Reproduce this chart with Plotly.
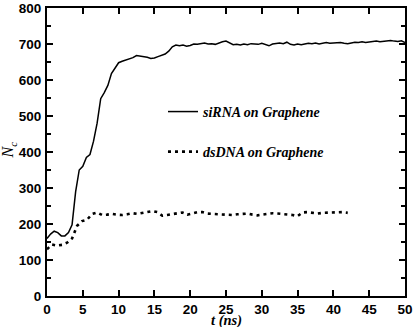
import numpy as np
import plotly.graph_objects as go

# siRNA on graphene, sampled every 0.5 ns
t_sirna = np.arange(0, 50.01, 0.5)
nc_sirna = [160, 172, 180, 176, 167, 167, 176, 198, 290, 350,
            360, 385, 393, 430, 480, 548, 565, 585, 618, 635,
            648, 652, 655, 658, 662, 668, 667, 664, 663, 660,
            661, 665, 668, 672, 680, 692, 697, 695, 697, 694,
            696, 700, 699, 702, 703, 700, 701, 699, 703, 706,
            708, 702, 698, 699, 697, 700, 698, 701, 700, 699,
            702, 698, 695, 700, 702, 703, 701, 705, 699, 697,
            700, 698, 700, 702, 701, 703, 700, 702, 704, 702,
            703, 705, 704, 702, 701, 703, 705, 704, 706, 704,
            705, 707, 708, 706, 707, 709, 710, 708, 707, 709,
            704]

# dsDNA on graphene, sampled every 0.7 ns
t_dsdna = np.arange(0, 42.05, 0.7)
nc_dsdna = [130, 143, 140, 142, 148, 160, 195, 208, 212, 228,
            232, 225, 226, 228, 226, 225, 227, 230, 228, 230,
            232, 236, 233, 223, 225, 227, 228, 232, 226, 230,
            233, 233, 229, 228, 227, 226, 224, 225, 227, 228,
            229, 226, 224, 226, 228, 230, 229, 228, 226, 225,
            222, 232, 233, 231, 229, 231, 232, 233, 232, 233,
            231]

legend_font = dict(family="Liberation Serif", size=14, color="black")

fig = go.Figure()

fig.add_trace(go.Scatter(
    x=t_sirna, y=nc_sirna,
    mode="lines",
    name="<b><i>siRNA on Graphene</i></b>",
    line=dict(color="black", width=1.5),
    legend="legend",
))

fig.add_trace(go.Scatter(
    x=t_dsdna, y=nc_dsdna,
    mode="lines",
    name="<b><i>dsDNA on Graphene</i></b>",
    line=dict(color="black", width=2.6, dash="3px,4px"),
    legend="legend2",
))

axis_common = dict(
    showgrid=False,
    zeroline=False,
    showline=True,
    linecolor="black",
    linewidth=2,
    mirror="ticks",
    ticks="inside",
    ticklen=6,
    tickwidth=2,
    tickcolor="black",
    automargin=False,
    ticklabeloverflow="allow",
    tickfont=dict(family="Liberation Sans", size=13.5, color="black", weight="bold"),
)

fig.update_layout(
    width=415,
    height=327,
    margin=dict(l=47, r=10, t=8, b=31),
    plot_bgcolor="white",
    paper_bgcolor="white",
    xaxis=dict(
        range=[0, 50],
        dtick=5,
        ticklabelstandoff=0,
        **axis_common,
    ),
    yaxis=dict(
        range=[0, 800],
        dtick=100,
        minor=dict(dtick=50, ticks="inside", ticklen=4, tickwidth=1.5, tickcolor="black"),
        ticklabelstandoff=1,
        **axis_common,
    ),
    legend=dict(x=0.324, y=0.639, xanchor="left", yanchor="middle",
                bgcolor="rgba(0,0,0,0)", font=legend_font,
                itemwidth=30, tracegroupgap=0),
    legend2=dict(x=0.324, y=0.5, xanchor="left", yanchor="middle",
                 bgcolor="rgba(0,0,0,0)", font=legend_font,
                 itemwidth=30, tracegroupgap=0),
    showlegend=True,
    annotations=[
        dict(text="<b><i>t (ns)</i></b>", xref="paper", yref="paper",
             x=0.5, y=-0.085, xanchor="center", yanchor="middle", showarrow=False,
             font=dict(family="Liberation Serif", size=14.5, color="black")),
        dict(text="<i>N<sub>c</sub></i>", xref="paper", yref="paper",
             x=-0.105, y=0.507, xanchor="center", yanchor="middle", showarrow=False,
             textangle=-90,
             font=dict(family="Liberation Serif", size=16, color="black")),
    ],
)

fig.write_html("out.html", config={"displayModeBar": False},
               post_script="document.body.style.margin='0px';")
